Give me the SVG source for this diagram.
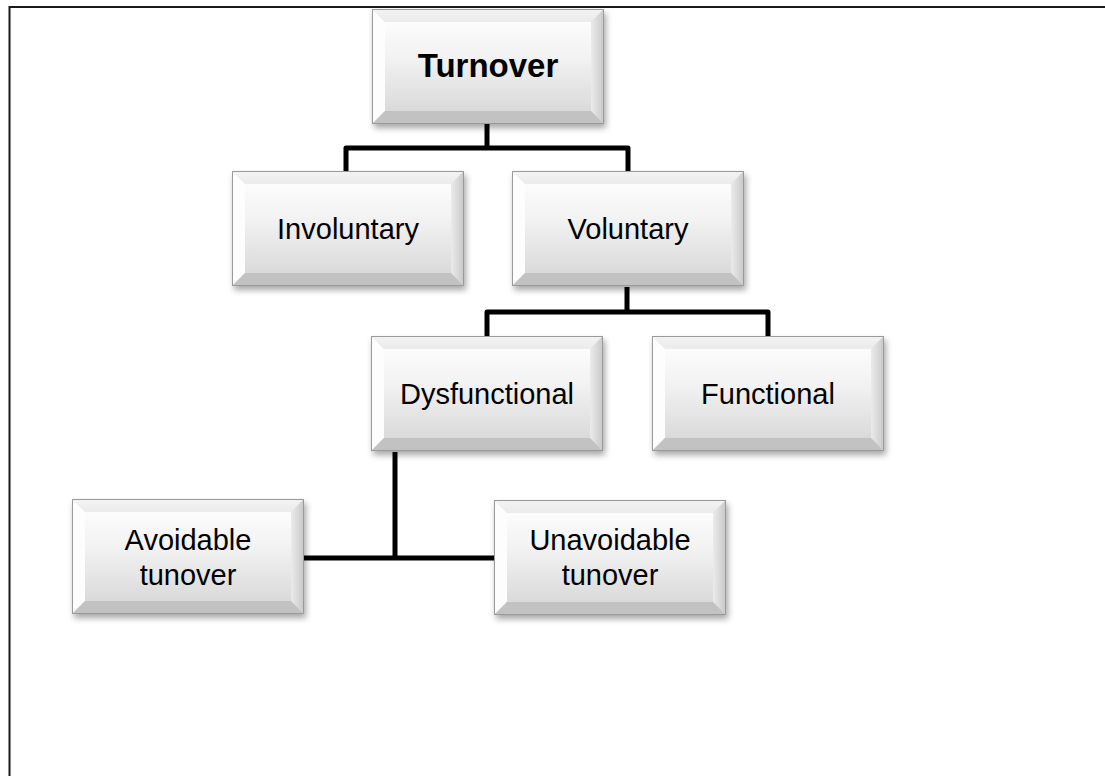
<svg xmlns="http://www.w3.org/2000/svg" xmlns:xlink="http://www.w3.org/1999/xlink" width="1105" height="776" viewBox="0 0 1105 776">
  <style>
    .lbl { font-family: "Liberation Sans", Arial, sans-serif; font-size: 29px; fill: #000; text-anchor: middle; }
    .bold { font-weight: bold; font-size: 33px; }
    .conn { fill: none; stroke: #000; stroke-width: 5; stroke-linejoin: round; stroke-linecap: butt; }
  </style>
  <defs>
    <linearGradient id="face" x1="0" y1="0" x2="0" y2="1">
      <stop offset="0" stop-color="#fcfcfc"/>
      <stop offset="0.4" stop-color="#f2f2f2"/>
      <stop offset="1" stop-color="#dadada"/>
    </linearGradient>
    <linearGradient id="rightBev" x1="0" y1="0" x2="1" y2="0">
      <stop offset="0" stop-color="#ebebeb"/>
      <stop offset="1" stop-color="#c8c8c8"/>
    </linearGradient>
    <linearGradient id="topBev" x1="0" y1="0" x2="0" y2="1">
      <stop offset="0" stop-color="#f3f3f3"/>
      <stop offset="1" stop-color="#ebebeb"/>
    </linearGradient>
    <filter id="shadow" x="-10%" y="-10%" width="125%" height="135%">
      <feDropShadow dx="2" dy="4" stdDeviation="3" flood-color="#000" flood-opacity="0.35"/>
    </filter>
    <g id="box">
      <rect x="0" y="0" width="232" height="115" fill="#e0e0e0"/>
      <polygon points="0,0 232,0 219,13 13,13" fill="url(#topBev)"/>
      <polygon points="0,0 13,13 13,102 0,115" fill="#fdfdfd"/>
      <polygon points="232,0 232,115 219,102 219,13" fill="url(#rightBev)"/>
      <polygon points="0,115 13,102 219,102 232,115" fill="#c2c2c2"/>
      <rect x="13" y="13" width="206" height="89" fill="url(#face)"/>
      <rect x="0.5" y="0.5" width="231" height="114" fill="none" stroke="#9a9a9a" stroke-width="1"/>
    </g>
  </defs>

  <rect x="0" y="0" width="1105" height="776" fill="#fff"/>
  <rect id="frame" x="9.5" y="7" width="1200" height="900" fill="none" stroke="#1a1a1a" stroke-width="2"/>

  <g id="connectors">
    <path class="conn" d="M487,123 V148 M346,171 V148 H628 V171"/>
    <path class="conn" d="M627,287 V312 M487,336 V312 H768 V336"/>
    <path class="conn" d="M395,452 V558 M304,558 H494"/>
  </g>

  <g id="turnover">
    <use xlink:href="#box" href="#box" x="372" y="9" filter="url(#shadow)"/>
    <text class="lbl bold" x="488" y="77">Turnover</text>
  </g>
  <g id="involuntary">
    <use xlink:href="#box" href="#box" x="232" y="171" filter="url(#shadow)"/>
    <text class="lbl" x="348" y="239">Involuntary</text>
  </g>
  <g id="voluntary">
    <use xlink:href="#box" href="#box" x="512" y="171" filter="url(#shadow)"/>
    <text class="lbl" x="628" y="239">Voluntary</text>
  </g>
  <g id="dysfunctional">
    <use xlink:href="#box" href="#box" x="371" y="336" filter="url(#shadow)"/>
    <text class="lbl" x="487" y="404">Dysfunctional</text>
  </g>
  <g id="functional">
    <use xlink:href="#box" href="#box" x="652" y="336" filter="url(#shadow)"/>
    <text class="lbl" x="768" y="404">Functional</text>
  </g>
  <g id="avoidable">
    <use xlink:href="#box" href="#box" x="72" y="499" filter="url(#shadow)"/>
    <text class="lbl" x="188" y="550">Avoidable</text>
    <text class="lbl" x="188" y="585">tunover</text>
  </g>
  <g id="unavoidable">
    <use xlink:href="#box" href="#box" x="494" y="500" filter="url(#shadow)"/>
    <text class="lbl" x="610" y="550">Unavoidable</text>
    <text class="lbl" x="610" y="585">tunover</text>
  </g>
</svg>
